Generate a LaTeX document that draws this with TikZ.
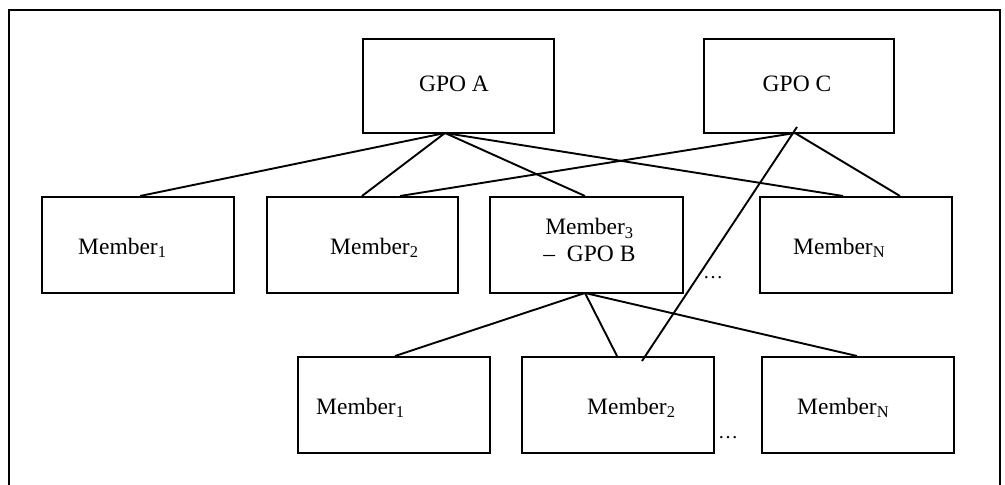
\documentclass[tikz,border=0pt]{standalone}
\usepackage{fontspec}
\setmainfont{Liberation Serif}
\begin{document}
\begin{tikzpicture}[x=1pt,y=-1pt,
  box/.style={draw,line width=1.9pt,minimum width=192pt,minimum height=96pt,inner sep=0pt,anchor=north west},
  txt/.style={font=\fontsize{23.5}{26}\selectfont,inner sep=0pt,anchor=west},
  link/.style={line width=1.9pt},
  dots/.style={font=\fontsize{20}{22}\selectfont,inner sep=0pt}]
\useasboundingbox (0,0) rectangle (1005,485);
% outer frame, open at the bottom
\draw[line width=2pt] (9,490) -- (9,9.5) -- (1000,9.5) -- (1000,490);

% top level GPOs
\node[box,minimum width=191pt,minimum height=94pt] (gpoa) at (362,38) {};
\node[txt,anchor=center] at (454,84) {GPO A};
\node[box,minimum width=190pt,minimum height=94pt] (gpoc) at (703,38) {};
\node[txt,anchor=center] at (797,84) {GPO C};

% first row of members
\node[box] (m1) at (41,196) {};
\node[txt] at ([xshift=37pt,yshift=-3pt]m1.west) {Member\textsubscript{1}};
\node[box,minimum width=191pt] (m2) at (266,196) {};
\node[txt] at ([xshift=64pt,yshift=-3pt]m2.west) {Member\textsubscript{2}};
\node[box,minimum width=193pt] (m3) at (489,196) {};
\node[txt,align=center,anchor=center] at ([xshift=3pt,yshift=5pt]m3.center) {Member\textsubscript{3}\\[1pt]–\ \ GPO B};
\node[box] (mn) at (759,196) {};
\node[txt] at ([xshift=34pt,yshift=-3pt]mn.west) {Member\textsubscript{N}};

% second row, members of GPO B
\node[box] (b1) at (297,356) {};
\node[txt] at ([xshift=19pt,yshift=-3pt]b1.west) {Member\textsubscript{1}};
\node[box] (b2) at (521,356) {};
\node[txt] at ([xshift=66pt,yshift=-3pt]b2.west) {Member\textsubscript{2}};
\node[box] (bn) at (761,356) {};
\node[txt] at ([xshift=36pt,yshift=-3pt]bn.west) {Member\textsubscript{N}};

% continuation marks
\node[dots] (d1) at (713,278) {\dots};
\node[dots] (d2) at (728,438) {\dots};

% hubs where the connectors meet
\coordinate (ha) at (445,133);
\coordinate (hc) at (795,133);
\coordinate (hc2) at (797,127);
\coordinate (hb) at (585,293);
\coordinate (e2) at (642,361);

% GPO A members
\draw[link] (ha) -- (m1.north west -| 140,0);
\draw[link] (ha) -- (m2.north west -| 362,0);
\draw[link] (ha) -- (m3.north west -| 585,0);
\draw[link] (ha) -- (mn.north west -| 843,0);
% GPO C members
\draw[link] (hc) -- (m2.north west -| 400,0);
\draw[link] (hc) -- (mn.north west -| 900,0);
\draw[link] (hc2) -- (e2);
% GPO B members
\draw[link] (hb) -- (b1.north west -| 395,0);
\draw[link] (hb) -- (b2.north west -| 617,0);
\draw[link] (hb) -- (bn.north west -| 857,0);
\end{tikzpicture}
\end{document}
